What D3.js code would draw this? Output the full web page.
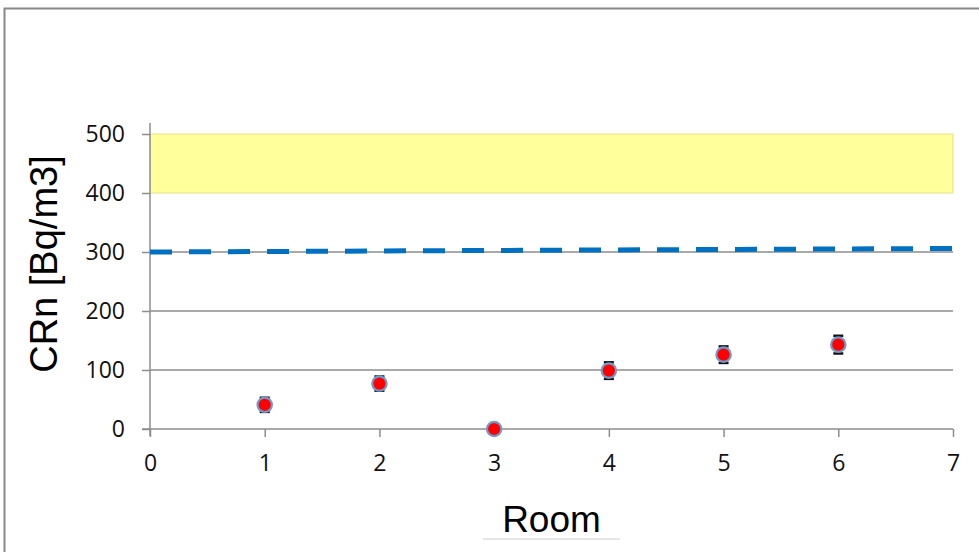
<!DOCTYPE html>
<html>
<head>
<meta charset="utf-8">
<script src="https://cdn.jsdelivr.net/npm/d3@7"></script>
<style>
  body { margin: 0; background: #fff; }
  text { font-family: "Liberation Sans", Arial, sans-serif; }
</style>
</head>
<body>
<div id="chart"></div>
<script>
// Radon concentration per room
const rooms = [1, 2, 3, 4, 5, 6];
const crn = [41, 77, 0, 99, 126, 143];
const crnErr = [12, 12, 0, 14, 14, 15];

// dashed reference line (end points) and yellow band
const refX = [0, 7];
const refY = [300, 306];
const band = [400, 500];

const xTicks = [0, 1, 2, 3, 4, 5, 6, 7];
const yTicks = [0, 100, 200, 300, 400, 500];

const W = 979, H = 552;
const margin = {top: 134, right: 26, bottom: 123, left: 150},
      width = W - margin.left - margin.right,
      height = H - margin.top - margin.bottom;

const root = d3.select("#chart")
    .append("svg")
    .attr("width", W)
    .attr("height", H);

// outer frame
root.append("path")
    .attr("d", `M4.5,${H} L4.5,8.5 L${W},8.5`)
    .attr("fill", "none")
    .attr("stroke", "#888")
    .attr("stroke-width", 2);

const svg = root.append("g")
    .attr("transform", `translate(${margin.left},${margin.top})`);

const x = d3.scaleLinear().domain([0, 7]).range([0, width]);
const y = d3.scaleLinear().domain([0, 500]).range([height, 0]);

// yellow band
svg.append("rect")
    .attr("x", x(0))
    .attr("y", y(band[1]))
    .attr("width", x(7) - x(0))
    .attr("height", y(band[0]) - y(band[1]))
    .attr("fill", "#ffff9c")
    .attr("stroke", "#e3e38a")
    .attr("stroke-width", 1);

// grid lines
svg.append("g")
    .selectAll("line")
    .data(yTicks.filter(d => d > 0 && d < 400))
    .enter()
    .append("line")
    .attr("x1", 0)
    .attr("x2", width)
    .attr("y1", d => y(d))
    .attr("y2", d => y(d))
    .attr("stroke", "#8c8c8c")
    .attr("stroke-width", 1.3);

// X axis
const xAxis = svg.append("g")
    .attr("transform", `translate(0,${height})`)
    .call(d3.axisBottom(x).tickValues(xTicks).tickSize(8).tickPadding(18).tickFormat(d3.format("d")));

// Y axis
const yAxis = svg.append("g")
    .call(d3.axisLeft(y).tickValues(yTicks).tickSize(8).tickPadding(17).tickFormat(d3.format("d")));

[xAxis, yAxis].forEach(a => {
    a.select(".domain").remove();
    a.selectAll("line").attr("stroke", "#8c8c8c").attr("stroke-width", 1.5);
    a.selectAll("text")
        .attr("fill", "#111")
        .style("font-family", "'Open Sans', sans-serif")
        .style("font-size", "23px");
});

// axis lines
svg.append("line")
    .attr("x1", 0).attr("x2", 0)
    .attr("y1", -11).attr("y2", height + 7)
    .attr("stroke", "#8c8c8c").attr("stroke-width", 1.5);
svg.append("line")
    .attr("x1", -8).attr("x2", width)
    .attr("y1", height).attr("y2", height)
    .attr("stroke", "#8c8c8c").attr("stroke-width", 1.5);

// dashed line
svg.append("line")
    .attr("x1", x(refX[0])).attr("y1", y(refY[0]))
    .attr("x2", x(refX[1])).attr("y2", y(refY[1]))
    .attr("stroke", "#0070c0")
    .attr("stroke-width", 5)
    .attr("stroke-dasharray", "22,17");

// error bars
const pts = rooms.map((r, i) => ({r: r, v: crn[i], e: crnErr[i]}));
const eb = svg.append("g")
    .selectAll("g")
    .data(pts.filter(d => d.e > 0))
    .enter()
    .append("g");
eb.append("line")
    .attr("x1", d => x(d.r)).attr("x2", d => x(d.r))
    .attr("y1", d => y(d.v - d.e)).attr("y2", d => y(d.v + d.e))
    .attr("stroke", "#111").attr("stroke-width", 1.5);
eb.selectAll(".cap")
    .data(d => [{r: d.r, v: d.v - d.e}, {r: d.r, v: d.v + d.e}])
    .enter()
    .append("line")
    .attr("x1", d => x(d.r) - 5).attr("x2", d => x(d.r) + 5)
    .attr("y1", d => y(d.v)).attr("y2", d => y(d.v))
    .attr("stroke", "#111").attr("stroke-width", 2.5);

// points
svg.selectAll("circle")
    .data(pts)
    .enter()
    .append("circle")
    .attr("cx", d => x(d.r))
    .attr("cy", d => y(d.v))
    .attr("r", 7.2)
    .attr("fill", "#ff0000")
    .attr("stroke", "#7099cc")
    .attr("stroke-width", 2.2);

// Labels
svg.append("text")
    .attr("transform", "rotate(-90)")
    .attr("x", -130)
    .attr("y", -93)
    .attr("text-anchor", "middle")
    .attr("fill", "#000")
    .style("font-size", "38px")
    .text("CRn [Bq/m3]");

svg.append("text")
    .attr("x", x(3.5))
    .attr("y", 398)
    .attr("text-anchor", "middle")
    .attr("fill", "#000")
    .style("font-size", "37px")
    .text("Room");

svg.append("line")
    .attr("x1", 333).attr("x2", 470)
    .attr("y1", height + 110).attr("y2", height + 110)
    .attr("stroke", "#e6e6e6").attr("stroke-width", 2);
</script>
</body>
</html>
